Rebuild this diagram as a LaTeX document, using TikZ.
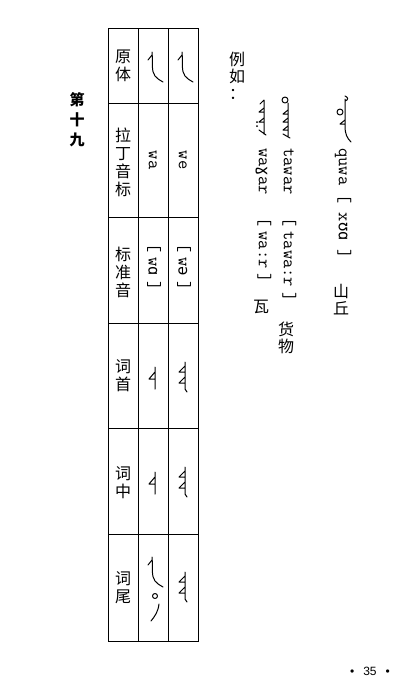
\documentclass[tikz,border=0pt]{standalone}
\usepackage{fontspec}
\usepackage{tikz}

\newfontfamily\cjk{Noto Sans CJK SC}
\newfontfamily\ipa{DejaVu Sans Mono}
\newfontfamily\pagefont{Liberation Sans}
\newcommand{\ip}[1]{{\ipa\fontsize{15.5}{16}\selectfont #1}}

\tikzset{
  head/.style={font=\cjk\fontsize{16}{18}\selectfont, align=center, inner sep=0pt},
  word/.style={font=\cjk\fontsize{16}{17}\selectfont, align=center, inner sep=0pt},
  lat/.style={font=\ttfamily\fontsize{18}{18}\selectfont, rotate=-90, inner sep=0pt},
  rule/.style={line width=0.9pt},
  glyph/.style={line width=1pt, line cap=round, line join=round}
}

\begin{document}
\begin{tikzpicture}[x=1pt, y=-1pt]
        \useasboundingbox (0,0) rectangle (415,689);
        %\draw[step=10,gray,very thin] (0,0) grid (415,689);

        % table
        \draw[rule] (108,28) rectangle (198,641);
        \draw[rule] (138,28) -- (138,641);
        \draw[rule] (168,28) -- (168,641);
        \draw[rule] (108,103) -- (198,103);
        \draw[rule] (108,217) -- (198,217);
        \draw[rule] (108,323) -- (198,323);
        \draw[rule] (108,428) -- (198,428);
        \draw[rule] (108,534) -- (198,534);

        \node[head] (yuanti) at (123,66) {原\\体};
        \node[head] (lading) at (123,162) {拉\\丁\\音\\标};
        \node[head] (biaozhun) at (123,272) {标\\准\\音};
        \node[head] (cishou) at (123,376) {词\\首};
        \node[head] (cizhong) at (123,483) {词\\中};
        \node[head] (ciwei) at (123,588) {词\\尾};

        \node[lat, anchor=mid] (wa) at (151,160) {wa};
        \node[lat, anchor=mid] (we) at (181,160) {we};
        \node[lat] (waipa) at (154,267) {[\;w\ip{ɑ}\;]};
        \node[lat] (weipa) at (184,267) {[\;w\ip{ə}\;]};

        % letter forms
        \def\wIso{(5,3) -- (1,8) (5,0) .. controls (6,10) and (4,19) .. (8,24) .. controls (10,27) and (13,28) .. (16,30)}
        \def\wOne{(8,0) -- (8,22) (8,5) -- (2,12) -- (8,12)}
        \def\wTwo{(8,0) -- (8,27) -- (10,30) (8,4) -- (2,10) -- (8,10) (8,15) -- (2,21) -- (8,21)}

        \draw[glyph, shift={(147,52)}] \wIso;
        \draw[glyph, shift={(177,52)}] \wIso;
        \draw[glyph, shift={(147,367)}] \wOne;
        \draw[glyph, shift={(177,362)}] \wTwo;
        \draw[glyph, shift={(147,472)}] \wOne;
        \draw[glyph, shift={(177,467)}] \wTwo;
        \draw[glyph, shift={(147,557)}] \wIso;
        \draw[glyph] (155,596) circle (2.5pt);
        \draw[glyph] (159,604) .. controls (158,612) and (155,616) .. (151,621);
        \draw[glyph, shift={(177,572)}] \wTwo;

        \node[font=\cjk\bfseries\fontsize{15}{20}\selectfont, align=center, inner sep=0pt] (di) at (77,120) {第\\十\\九};

        % examples
        \node[word] (liru) at (237,76) {例\\如\\：};

        \draw[glyph, shift={(335,96)}] (10,0) .. controls (13,1) and (14,4) .. (10,5)
              (10,3) -- (10,30) .. controls (10,38) and (12,42) .. (16,46)
              (5,16) circle (3pt) (10,24) -- (5,28) -- (10,28);
        \node[lat, anchor=mid west] (quwa) at (341,148) {quwa};
        \node[lat, anchor=mid west] (quwaipa) at (341,194) {[\ x\ip{ʊɑ}\ ]};
        \node[word] (shanqiu) at (341,300) {山\\丘};

        \draw[glyph, shift={(279,96)}] (6,4) circle (3pt)
              (9,7) -- (9,40) (9,14) -- (4,18) -- (9,18) (9,22) -- (4,26) -- (9,26)
              (9,30) -- (4,34) -- (9,34) (4,38) -- (11,42);
        \node[lat, anchor=mid west] (tawar) at (286,148) {tawar};
        \node[lat, anchor=mid west] (tawaripa) at (286,217) {[\;tawa:r\;]};
        \node[word] (huowu) at (286,338) {货\\物};

        \draw[glyph, shift={(255,100)}] (9,0) -- (5,4) (9,0) -- (9,34)
              (9,8) -- (4,12) -- (9,12) (9,18) -- (4,22) -- (9,22) (4,30) -- (11,35);
        \fill (257,122) circle (1pt) (257,126) circle (1pt);
        \node[lat, anchor=mid west] (wagar) at (261,148) {wa\ip{ɣ}ar};
        \node[lat, anchor=mid west] (wagaripa) at (261,217) {[\;wa:r\;]};
        \node[word] (wa2) at (261,307) {瓦};

        \node[font=\pagefont\fontsize{12}{12}\selectfont] (page) at (370,671) {\textbullet\hspace{9pt}35\hspace{9pt}\textbullet};
\end{tikzpicture}
\end{document}
